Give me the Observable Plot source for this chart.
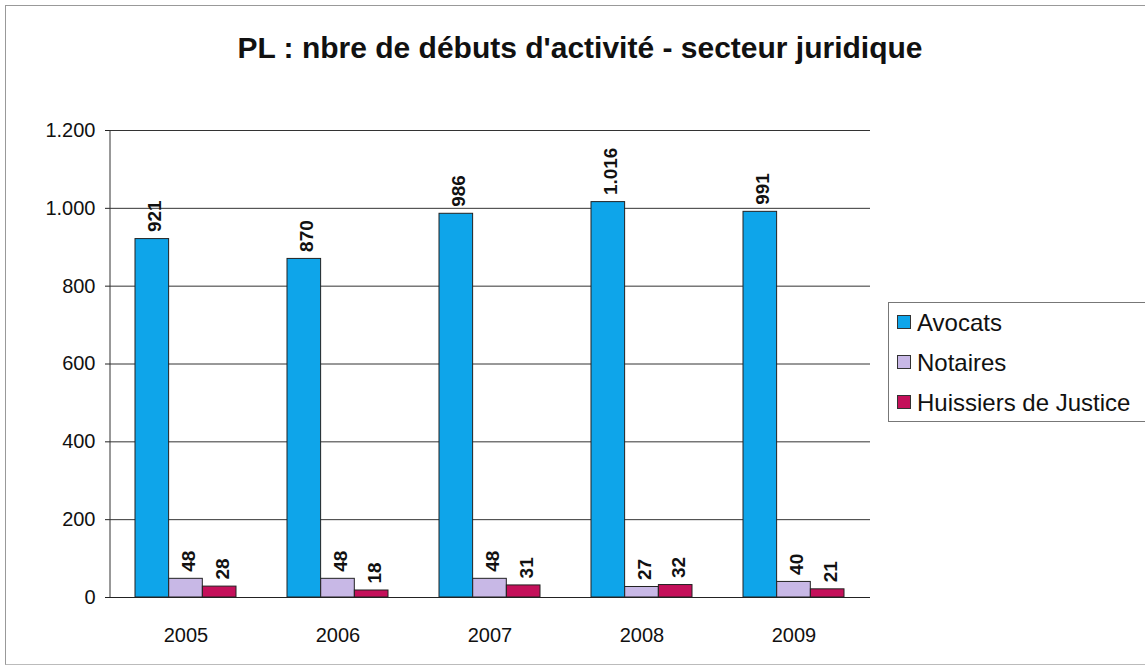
<!DOCTYPE html>
<html>
<head>
<meta charset="utf-8">
<script src="https://cdn.jsdelivr.net/npm/d3@7"></script>
<script src="https://cdn.jsdelivr.net/npm/@observablehq/plot@0.6"></script>
<style>
  body { margin: 0; background: #fff; font-family: "Liberation Sans", Arial, sans-serif; }
  #wrap { position: relative; width: 1145px; height: 670px; overflow: hidden; }
  #frame { position: absolute; left: 5px; top: 5px; width: 1145px; height: 658px; border-left: 1px solid #999; border-top: 1px solid #999; border-bottom: 1px solid #bbb; }
  #title { position: absolute; left: 10px; width: 1140px; top: 31px; text-align: center; font-weight: bold; font-size: 30px; color: #111; }
  #chart { position: absolute; left: 0; top: 0; }
  #legend { position: absolute; left: 888px; top: 302px; width: 262px; height: 120px; border: 1px solid #777; box-sizing: border-box; }
  .item { position: absolute; left: 8px; font-size: 24px; color: #111; white-space: nowrap; line-height: 26px; }
  .sw { display: inline-block; width: 12px; height: 12px; border: 1px solid #333; margin-right: 6px; vertical-align: 2px; }
</style>
</head>
<body>
<div id="wrap">
  <div id="frame"></div>
  <div id="chart"></div>
  <div id="title">PL : nbre de débuts d'activité - secteur juridique</div>
  <div id="legend"></div>
</div>
<script>
const years = ["2005", "2006", "2007", "2008", "2009"];
const series = ["Avocats", "Notaires", "Huissiers de Justice"];
const avocats = [921, 870, 986, 1016, 991];
const notaires = [48, 48, 48, 27, 40];
const huissiers = [28, 18, 31, 32, 21];
const colors = ["#0ea5ea", "#c8b8e6", "#c4105a"];
const yTicks = [0, 200, 400, 600, 800, 1000, 1200];

const values = [avocats, notaires, huissiers];
const fmt = d => d >= 1000 ? (Math.floor(d / 1000) + "." + String(d % 1000).padStart(3, "0")) : String(d);

const W = 880, H = 660, mL = 110, mR = 10, mT = 130, mB = 63;
const pIn = 0.335, pOut = 0.1675;
const step = (W - mL - mR) / (years.length - pIn + 2 * pOut);
const bw = step * (1 - pIn);
const sub = bw / series.length;

const barMarks = [];
const textMarks = [];
series.forEach((s, j) => {
  const rows = years.map((yr, i) => ({year: yr, series: s, value: values[j][i]}));
  barMarks.push(Plot.barY(rows, {
    x: "year", y: "value", fill: colors[j], stroke: "#222", strokeWidth: 1,
    insetLeft: j * sub, insetRight: (series.length - 1 - j) * sub
  }));
  textMarks.push(Plot.text(rows, {
    x: "year", y: "value", text: d => fmt(d.value), rotate: -90, textAnchor: "start", lineAnchor: "middle",
    dx: (j - 1) * sub + 3, dy: -7, fontWeight: "bold", fontSize: 19, fill: "#111"
  }));
});

const chart = Plot.plot({
  width: W,
  height: H,
  marginLeft: mL,
  marginRight: mR,
  marginTop: mT,
  marginBottom: mB,
  style: {fontFamily: "Liberation Sans, Arial, sans-serif", color: "#111", background: "transparent"},
  x: {domain: years, paddingInner: pIn, paddingOuter: pOut, label: null},
  y: {domain: [0, 1200], label: null},
  marks: [
    Plot.ruleY(yTicks.filter(d => d > 0), {stroke: "#333", strokeWidth: 1}),
    ...barMarks,
    ...textMarks,
    Plot.ruleY([0], {stroke: "#222", strokeWidth: 1.2}),
    Plot.axisY(yTicks, {tickFormat: fmt, tickSize: 5, tickPadding: 10, fontSize: 20, label: null, stroke: "#222"}),
    Plot.axisX({tickSize: 0, tickPadding: 30, fontSize: 20, label: null})
  ]
});
document.getElementById("chart").appendChild(chart);
const y = chart.scale("y");
d3.select(chart).append("line")
  .attr("x1", mL).attr("x2", mL)
  .attr("y1", y.apply(1200)).attr("y2", y.apply(0))
  .attr("stroke", "#333");

const legend = document.getElementById("legend");
series.forEach((s, i) => {
  const div = document.createElement("div");
  div.className = "item";
  div.style.top = (7 + i * 40) + "px";
  div.innerHTML = `<span class="sw" style="background:${colors[i]}"></span>${s}`;
  legend.appendChild(div);
});
</script>
</body>
</html>
